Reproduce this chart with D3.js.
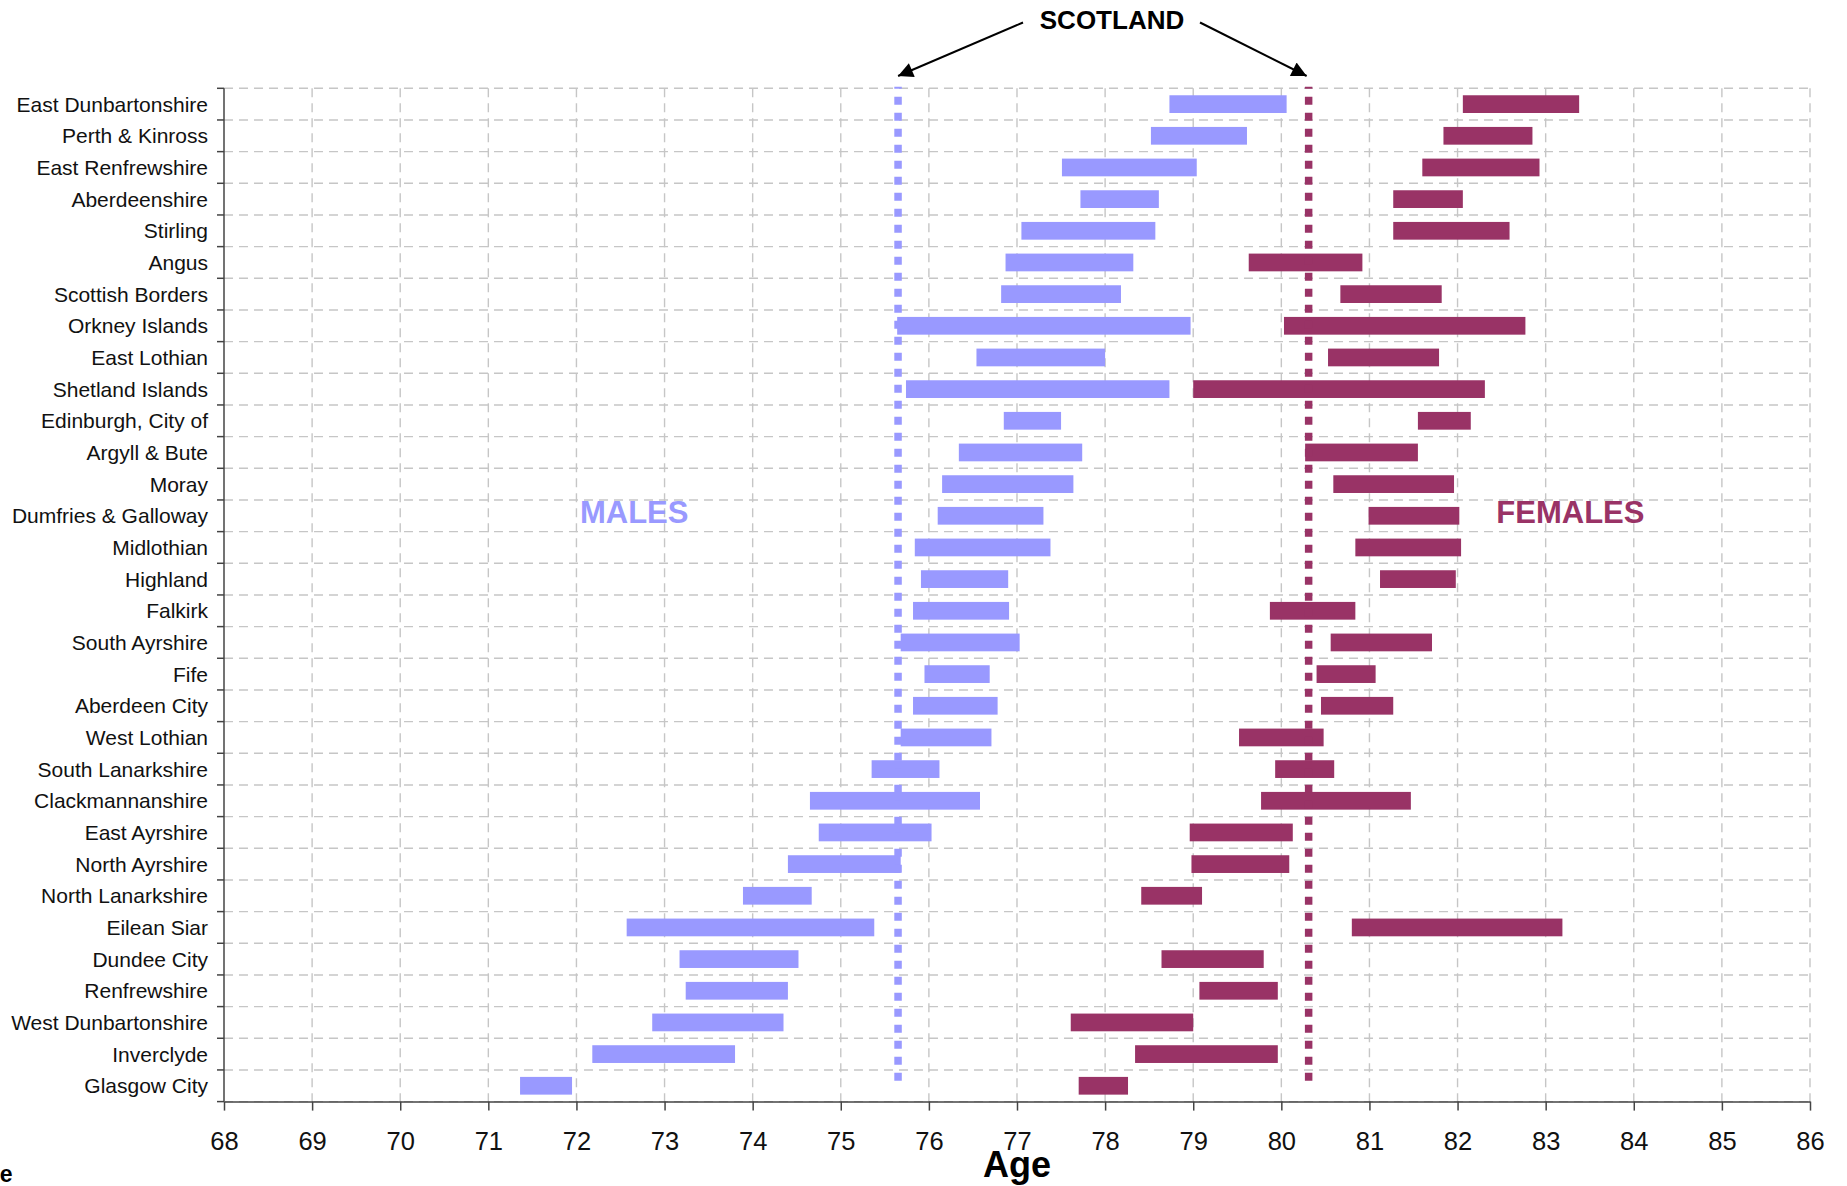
<!DOCTYPE html>
<html>
<head>
<meta charset="utf-8">
<script src="https://cdn.jsdelivr.net/npm/d3@7"></script>
<style>
  body { margin: 0; background: #fff; }
  svg text { font-family: "Liberation Sans", Arial, sans-serif; }
</style>
</head>
<body>
<div id="chart"></div>
<script>
(function () {

  // council areas, top to bottom
  const areas = ["East Dunbartonshire", "Perth & Kinross", "East Renfrewshire", "Aberdeenshire",
    "Stirling", "Angus", "Scottish Borders", "Orkney Islands", "East Lothian", "Shetland Islands",
    "Edinburgh, City of", "Argyll & Bute", "Moray", "Dumfries & Galloway", "Midlothian", "Highland",
    "Falkirk", "South Ayrshire", "Fife", "Aberdeen City", "West Lothian", "South Lanarkshire",
    "Clackmannanshire", "East Ayrshire", "North Ayrshire", "North Lanarkshire", "Eilean Siar",
    "Dundee City", "Renfrewshire", "West Dunbartonshire", "Inverclyde", "Glasgow City"];

  // male life expectancy ranges (low / high)
  const maleLow = [78.73, 78.52, 77.51, 77.72, 77.05, 76.87, 76.82, 75.64, 76.54, 75.74,
    76.85, 76.34, 76.15, 76.10, 75.84, 75.91, 75.82, 75.68, 75.95, 75.82, 75.68, 75.35,
    74.65, 74.75, 74.40, 73.89, 72.57, 73.17, 73.24, 72.86, 72.18, 71.36];
  const maleHigh = [80.06, 79.61, 79.04, 78.61, 78.57, 78.32, 78.18, 78.97, 78.00, 78.73,
    77.50, 77.74, 77.64, 77.30, 77.38, 76.90, 76.91, 77.03, 76.69, 76.78, 76.71, 76.12,
    76.58, 76.03, 75.68, 74.67, 75.38, 74.52, 74.40, 74.35, 73.80, 71.95];

  // female life expectancy ranges (low / high)
  const femaleLow = [82.06, 81.84, 81.60, 81.27, 81.27, 79.63, 80.67, 80.03, 80.53, 79.00,
    81.55, 80.27, 80.59, 80.99, 80.84, 81.12, 79.87, 80.56, 80.40, 80.45, 79.52, 79.93,
    79.77, 78.96, 78.98, 78.41, 80.80, 78.64, 79.07, 77.61, 78.34, 77.70];
  const femaleHigh = [83.38, 82.85, 82.93, 82.06, 82.59, 80.92, 81.82, 82.77, 81.79, 82.31,
    82.15, 81.55, 81.96, 82.02, 82.04, 81.98, 80.84, 81.71, 81.07, 81.27, 80.48, 80.60,
    81.47, 80.13, 80.09, 79.10, 83.19, 79.80, 79.96, 79.00, 79.96, 78.26];

  // Scotland averages
  const scotlandMale = 75.65;
  const scotlandFemale = 80.31;

  const xTicks = d3.range(68, 87);

  const maleColor = "#9999ff",
        femaleColor = "#993366",
        gridColor = "#c6c6c6",
        axisColor = "#444";

  let margin = {top: 88.3, right: 37, bottom: 84.4, left: 224},
      fullWidth = 1847, fullHeight = 1186,
      width = fullWidth - margin.left - margin.right,
      height = fullHeight - margin.top - margin.bottom;

  let svg = d3.select("#chart")
    .append("svg")
      .attr("width", fullWidth)
      .attr("height", fullHeight);

  let g = svg.append("g")
      .attr("transform", "translate(" + margin.left + "," + margin.top + ")");

  let x = d3.scaleLinear()
      .domain([68, 86])
      .range([0, width]);

  let y = d3.scaleBand()
      .domain(areas)
      .range([0, height]);

  let step = y.step();
  let boundaries = areas.map(d => y(d)).concat([height]);

  // grid lines
  g.append("g")
    .selectAll("line")
    .data(boundaries)
    .enter().append("line")
      .attr("x1", 0).attr("x2", width)
      .attr("y1", d => d).attr("y2", d => d)
      .attr("stroke", gridColor)
      .attr("stroke-width", 1.4)
      .attr("stroke-dasharray", "9,6");

  g.append("g")
    .selectAll("line")
    .data(xTicks.slice(1))
    .enter().append("line")
      .attr("x1", d => x(d)).attr("x2", d => x(d))
      .attr("y1", 0).attr("y2", height)
      .attr("stroke", gridColor)
      .attr("stroke-width", 1.4)
      .attr("stroke-dasharray", "9,6");

  // bars
  let barH = step * 0.56;

  g.append("g")
    .selectAll("rect")
    .data(areas)
    .enter().append("rect")
      .attr("x", (d, i) => x(maleLow[i]))
      .attr("y", d => y(d) + (step - barH) / 2)
      .attr("width", (d, i) => x(maleHigh[i]) - x(maleLow[i]))
      .attr("height", barH)
      .style("fill", maleColor);

  g.append("g")
    .selectAll("rect")
    .data(areas)
    .enter().append("rect")
      .attr("x", (d, i) => x(femaleLow[i]))
      .attr("y", d => y(d) + (step - barH) / 2)
      .attr("width", (d, i) => x(femaleHigh[i]) - x(femaleLow[i]))
      .attr("height", barH)
      .style("fill", femaleColor);

  // Scotland dotted lines
  [[scotlandMale, maleColor], [scotlandFemale, femaleColor]].forEach(function (s) {
    g.append("line")
      .attr("x1", x(s[0])).attr("x2", x(s[0]))
      .attr("y1", -1.6).attr("y2", height - 20)
      .attr("stroke", s[1])
      .attr("stroke-width", 7.5)
      .attr("stroke-dasharray", "8,8")
      .attr("stroke-dashoffset", 6);
  });

  // y axis: line, boundary ticks, labels
  g.append("line")
    .attr("x1", 0).attr("x2", 0)
    .attr("y1", 0).attr("y2", height)
    .attr("stroke", axisColor)
    .attr("stroke-width", 1.5);

  g.append("g")
    .selectAll("line")
    .data(boundaries)
    .enter().append("line")
      .attr("x1", -7).attr("x2", 0)
      .attr("y1", d => d).attr("y2", d => d)
      .attr("stroke", axisColor)
      .attr("stroke-width", 1.5);

  g.append("g")
    .selectAll("text")
    .data(areas)
    .enter().append("text")
      .attr("x", -16)
      .attr("y", d => y(d) + step / 2)
      .attr("dy", "0.36em")
      .attr("text-anchor", "end")
      .style("font-size", "21px")
      .style("fill", "#111")
      .text(d => d);

  // x axis
  let xAxis = g.append("g")
      .attr("transform", "translate(0," + height + ")")
      .call(d3.axisBottom(x).tickValues(xTicks).tickFormat(d3.format("d"))
        .tickSize(9).tickPadding(21).tickSizeOuter(0));
  xAxis.select(".domain").attr("stroke", axisColor).attr("stroke-width", 1.5);
  xAxis.selectAll(".tick line").attr("stroke", axisColor).attr("stroke-width", 1.5);
  xAxis.selectAll(".tick text")
      .style("font-size", "25.5px")
      .style("font-family", "'Liberation Sans', Arial, sans-serif")
      .style("fill", "#111");

  g.append("text")
    .attr("x", width / 2)
    .attr("y", height + 75.5)
    .attr("text-anchor", "middle")
    .style("font-size", "36px")
    .style("font-weight", "bold")
    .text("Age");

  // series labels
  g.append("text")
    .attr("x", x(72.04))
    .attr("y", 435)
    .style("font-size", "31px")
    .style("font-weight", "bold")
    .style("fill", maleColor)
    .text("MALES");

  g.append("text")
    .attr("x", x(82.44))
    .attr("y", 435)
    .style("font-size", "31px")
    .style("font-weight", "bold")
    .style("fill", femaleColor)
    .text("FEMALES");

  // Scotland annotation
  svg.append("defs").append("marker")
      .attr("id", "arrow")
      .attr("viewBox", "0 0 10 10")
      .attr("refX", 10).attr("refY", 5)
      .attr("markerUnits", "userSpaceOnUse")
      .attr("markerWidth", 18).attr("markerHeight", 15)
      .attr("orient", "auto")
    .append("path")
      .attr("d", "M0,0 L10,5 L0,10 Z")
      .attr("fill", "#000");

  svg.append("text")
    .attr("x", 1112)
    .attr("y", 29)
    .attr("text-anchor", "middle")
    .style("font-size", "26px")
    .style("font-weight", "bold")
    .text("SCOTLAND");

  svg.append("line")
    .attr("x1", 1023).attr("y1", 22.5)
    .attr("x2", margin.left + x(scotlandMale)).attr("y2", 76)
    .attr("stroke", "#000").attr("stroke-width", 2)
    .attr("marker-end", "url(#arrow)");

  svg.append("line")
    .attr("x1", 1200).attr("y1", 22.5)
    .attr("x2", margin.left + x(scotlandFemale) - 2).attr("y2", 76)
    .attr("stroke", "#000").attr("stroke-width", 2)
    .attr("marker-end", "url(#arrow)");

  // clipped fragment at bottom-left
  svg.append("text")
    .attr("x", 12.5)
    .attr("y", 1181.7)
    .attr("text-anchor", "end")
    .style("font-size", "23px")
    .style("font-weight", "bold")
    .text("Age");

})();
</script>
</body>
</html>
